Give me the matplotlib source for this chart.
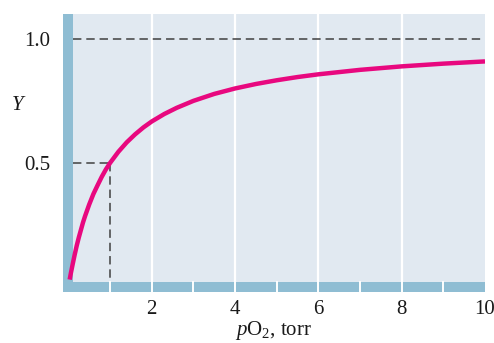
import matplotlib
matplotlib.use("Agg")
import matplotlib.pyplot as plt

# Data
po2 = [0.03, 0.06, 0.1, 0.15, 0.2, 0.25, 0.3, 0.35, 0.4, 0.5, 0.6, 0.7, 0.8, 0.9, 1.0,
       1.2, 1.4, 1.6, 1.8, 2.0, 2.3, 2.6, 3.0, 3.5, 4.0, 4.5, 5.0, 5.5, 6.0, 7.0, 8.0, 9.0, 10.0]
Y = [0.03, 0.057, 0.09, 0.13, 0.167, 0.20, 0.23, 0.26, 0.286, 0.333, 0.375, 0.41, 0.444, 0.474, 0.50,
     0.545, 0.583, 0.615, 0.643, 0.667, 0.697, 0.722, 0.75, 0.778, 0.80, 0.818, 0.833, 0.846, 0.857,
     0.875, 0.889, 0.90, 0.909]
xticks = [2, 4, 6, 8, 10]
xtick_labels = ["2", "4", "6", "8", "10"]
yticks = [0.5, 1.0]
ytick_labels = ["0.5", "1.0"]
half_x = 1.0
half_y = 0.5
full_y = 1.0

plt.rcParams['font.family'] = ['Liberation Serif', 'DejaVu Serif']
plt.rcParams['mathtext.fontset'] = 'custom'
plt.rcParams['mathtext.rm'] = 'Liberation Serif'
plt.rcParams['mathtext.it'] = 'Liberation Serif:italic'

fig = plt.figure(figsize=(4.94, 3.43), dpi=100)
ax = fig.add_axes([63/494, 51/343, 422/494, 278/343])
ax.set_facecolor('#e1e9f1')
ax.set_xlim(-0.13, 10.0)
ax.set_ylim(-0.02, 1.10)

band = '#8fbdd3'
ax.axvspan(-0.13, 0.11, color=band, lw=0, zorder=1)
ax.axhspan(-0.02, 0.02, color=band, lw=0, zorder=1)

for x in [2, 4, 6, 8]:
    ax.axvline(x, color='white', lw=1.6, zorder=0.5)
for x in range(1, 10):
    ax.plot([x, x], [-0.02, 0.02], color='white', lw=1.4, zorder=1.5)

dash_col = '#404040'
dash = (0, (5.5, 3.2))
ax.plot([0.11, 10.0], [full_y, full_y], ls=dash, color=dash_col, lw=1.1, zorder=2)
ax.plot([0.11, half_x], [half_y, half_y], ls=dash, color=dash_col, lw=1.1, zorder=2)
ax.plot([half_x, half_x], [half_y, 0.02], ls=dash, color=dash_col, lw=1.1, zorder=2)

ax.plot(po2, Y, color='#e8087f', lw=3.2, solid_capstyle='butt', solid_joinstyle='round', zorder=3)

for s in ax.spines.values():
    s.set_visible(False)
ax.set_xticks(xticks)
ax.set_xticklabels(xtick_labels)
ax.set_yticks(yticks)
ax.set_yticklabels(ytick_labels)
ax.tick_params(length=0, labelsize=15, colors='#1a1a1a')
ax.tick_params(axis='y', pad=9)
ax.tick_params(axis='x', pad=6)

ax.set_xlabel(r'$\mathit{p}$O$_2$, torr', fontsize=15, color='#1a1a1a', labelpad=0)
fig.text(18/494, 1 - 105/343, 'Y', fontsize=15, style='italic', color='#1a1a1a', ha='center', va='center')

fig.savefig('out.png', dpi=100)
